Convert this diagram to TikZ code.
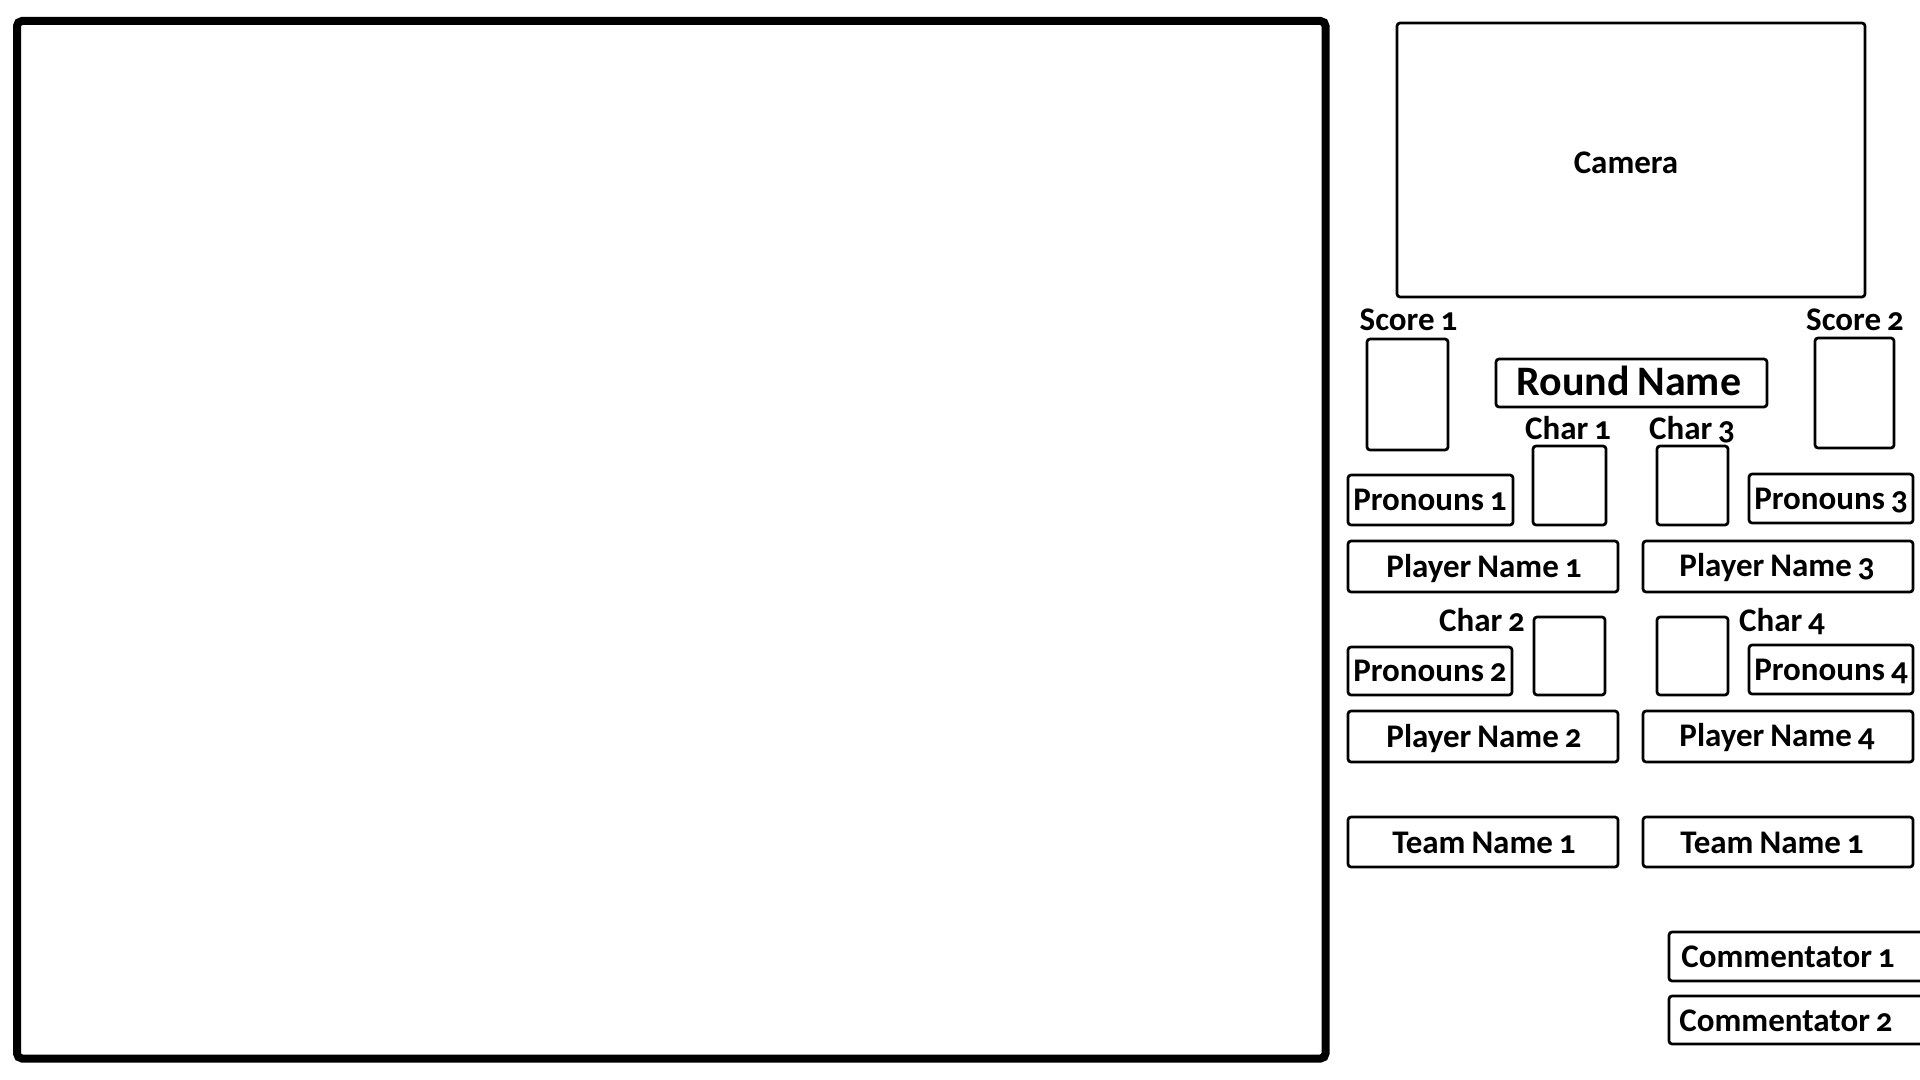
\documentclass[tikz,border=0pt]{standalone}
\usepackage{fontspec}
\setmainfont{Carlito}[Numbers=OldStyle, WordSpace=0.8]
\usetikzlibrary{fit}
\tikzset{
  frame/.style={draw=black, line width=4pt, rounded corners=2.5pt},
  box/.style={draw=black, line width=1.35pt, rounded corners=1.5pt, inner sep=0pt},
  lbl/.style={font=\bfseries\fontsize{16.5}{18}\selectfont, inner sep=0pt, anchor=base},
  biglbl/.style={font=\bfseries\fontsize{21}{24}\selectfont, inner sep=0pt, anchor=base},
}
\begin{document}
\begin{tikzpicture}[x=0.5pt,y=-0.5pt]
\useasboundingbox (0,0) rectangle (1920,1080);
% main game area
\node[frame, inner sep=0pt, fit={(17,21) (1325.5,1058.5)}] (game) {};
% camera
\node[box, fit={(1397,23) (1865,297)}] (cam) {};
\node[lbl] (camt) at (1626,174) {Camera};
% scores
\node[lbl] (s1l) at (1408.5,331) {Score 1};
\node[box, fit={(1367,339) (1448,450)}] (s1) {};
\node[lbl] (s2l) at (1855,331) {Score 2};
\node[box, fit={(1815,338) (1894,448)}] (s2) {};
% round name
\node[box, fit={(1496,359) (1767,407)}] (rn) {};
\node[biglbl] (rnt) at (1629,395) {Round Name};
% chars top
\node[lbl] (c1l) at (1568,439) {Char 1};
\node[box, fit={(1533,446) (1606,525)}] (c1) {};
\node[lbl] (c3l) at (1692,439) {Char 3};
\node[box, fit={(1657,446) (1728,525)}] (c3) {};
% pronouns top
\node[box, fit={(1348,475) (1513,525)}] (p1) {};
\node[lbl] (p1t) at (1430,510) {Pronouns 1};
\node[box, fit={(1749,474) (1913,523)}] (p3) {};
\node[lbl] (p3t) at (1831,509) {Pronouns 3};
% player names top
\node[box, fit={(1348,541) (1618,592)}] (pn1) {};
\node[lbl] (pn1t) at (1484,577) {Player Name 1};
\node[box, fit={(1643,541) (1913,592)}] (pn3) {};
\node[lbl] (pn3t) at (1777,576) {Player Name 3};
% chars bottom
\node[lbl] (c2l) at (1482,631) {Char 2};
\node[box, fit={(1534,617) (1605,695)}] (c2) {};
\node[lbl] (c4l) at (1782,631) {Char 4};
\node[box, fit={(1657,617) (1728,695)}] (c4) {};
% pronouns bottom
\node[box, fit={(1348,647) (1512,695)}] (p2) {};
\node[lbl] (p2t) at (1430,681) {Pronouns 2};
\node[box, fit={(1749,645) (1913,694)}] (p4) {};
\node[lbl] (p4t) at (1831,680) {Pronouns 4};
% player names bottom
\node[box, fit={(1348,711) (1618,762)}] (pn2) {};
\node[lbl] (pn2t) at (1484,747) {Player Name 2};
\node[box, fit={(1643,711) (1913,762)}] (pn4) {};
\node[lbl] (pn4t) at (1777,746) {Player Name 4};
% team names
\node[box, fit={(1348,817) (1618,867)}] (tn1) {};
\node[lbl] (tn1t) at (1484,853) {Team Name 1};
\node[box, fit={(1643,817) (1913,867)}] (tn2) {};
\node[lbl] (tn2t) at (1772,853) {Team Name 1};
% commentators
\node[box, fit={(1669,932) (1945,981)}] (cm1) {};
\node[lbl, anchor=base west] (cm1t) at (1681,967) {Commentator 1};
\node[box, fit={(1669,996) (1945,1044)}] (cm2) {};
\node[lbl, anchor=base west] (cm2t) at (1679,1031) {Commentator 2};
\end{tikzpicture}
\end{document}
